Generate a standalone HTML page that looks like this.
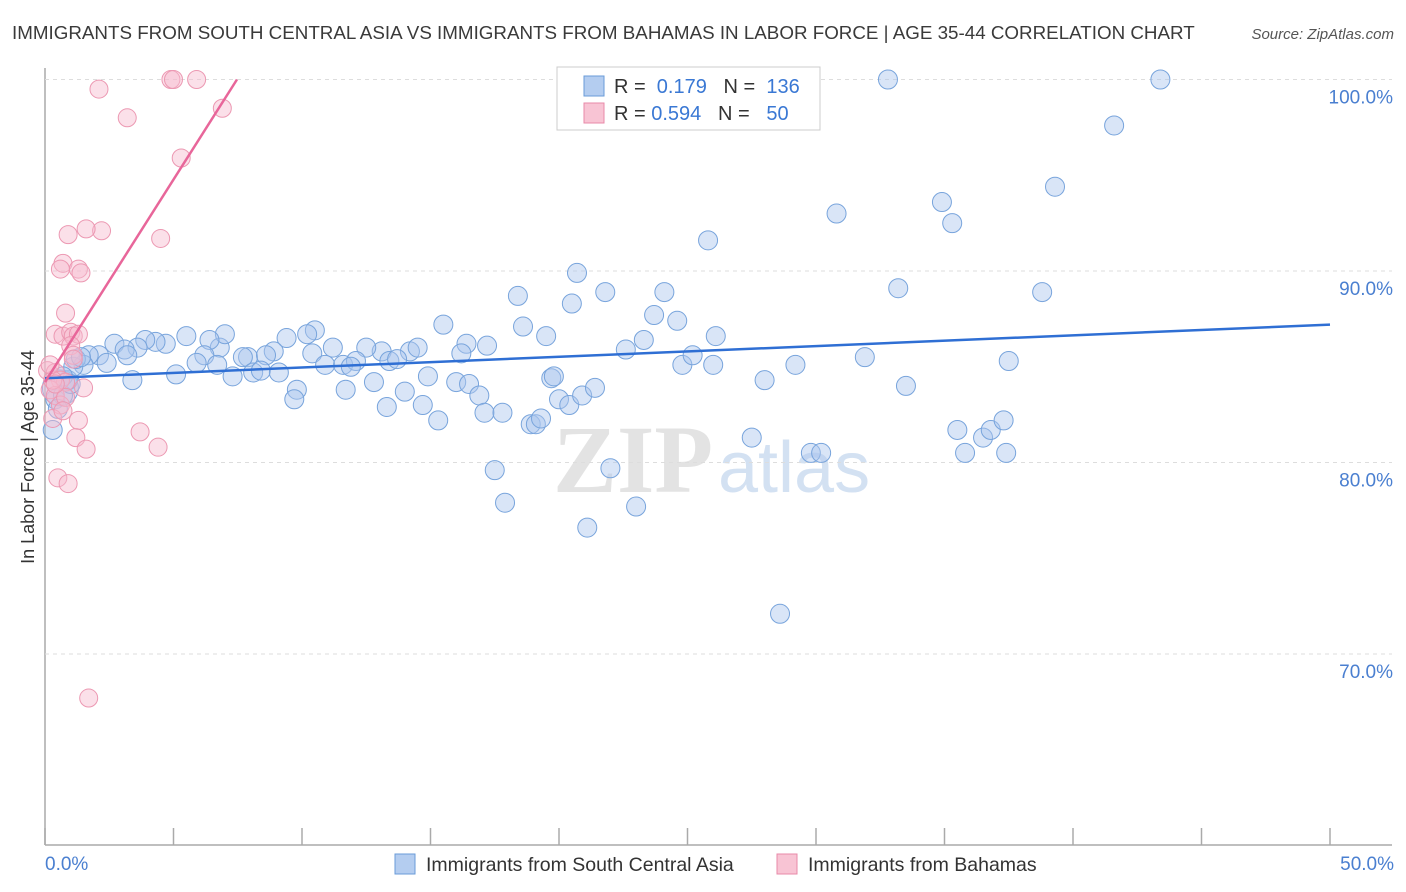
<!DOCTYPE html>
<html><head><meta charset="utf-8"><style>
body{margin:0;background:#fff;font-family:"Liberation Sans",sans-serif}
svg{display:block}
</style></head><body>
<svg id="c" width="1406" height="892">
<text x="12" y="39" font-size="18.8" fill="#3a3a3a">IMMIGRANTS FROM SOUTH CENTRAL ASIA VS IMMIGRANTS FROM BAHAMAS IN LABOR FORCE | AGE 35-44 CORRELATION CHART</text>
<text x="1394" y="39" font-size="15" fill="#555" font-style="italic" text-anchor="end">Source: ZipAtlas.com</text>
<g><text x="553" y="492" font-size="96" fill="#ddd" font-family="Liberation Serif" font-weight="bold" opacity="0.8">ZIP</text><text x="718" y="492" font-size="72" fill="#c9daf0" opacity="0.8">atlas</text></g>
<g id="grid"></g><g id="pts"></g><g id="lines"></g>
<text transform="translate(34,457) rotate(-90)" font-size="18" fill="#333" text-anchor="middle">In Labor Force | Age 35-44</text>
<g>
<rect x="557" y="67" width="263" height="63" fill="#fff" stroke="#ccc"/>
<rect x="584" y="76" width="20" height="20" fill="#b4cdf0" stroke="#6a9bd8"/>
<rect x="584" y="103" width="20" height="20" fill="#f8c4d4" stroke="#e88aa8"/>
<text x="614" y="93" font-size="20" fill="#333">R = <tspan fill="#3a78d4">&#160;0.179</tspan>&#160;&#160;&#160;N = <tspan fill="#3a78d4">&#160;136</tspan></text>
<text x="614" y="120" font-size="20" fill="#333">R = <tspan fill="#3a78d4">0.594</tspan>&#160;&#160;&#160;N = <tspan fill="#3a78d4">&#160;&#160;50</tspan></text>
</g>
<g>
<rect x="395" y="854" width="20" height="20" fill="#b4cdf0" stroke="#6a9bd8"/>
<text x="426" y="871" font-size="19.5" fill="#333">Immigrants from South Central Asia</text>
<rect x="777" y="854" width="20" height="20" fill="#f8c4d4" stroke="#e88aa8"/>
<text x="808" y="871" font-size="19.5" fill="#333">Immigrants from Bahamas</text>
</g>
</svg>
<script>
const xTicks=[0,5,10,15,20,25,30,35,40,45,50];
const yTicks=[70,80,90,100];
const blueX=[32.8,43.4,41.6,39.3,30.8,34.9,35.3,25.8,33.2,38.8,20.7,18.4,21.8,24.1,20.5,23.7,24.6,18.6,15.5,19.5,26.1,17.2,16.4,22.6,23.3,16.2,14.2,14.5,13.1,12.5,11.2,10.5,10.2,9.4,8.9,7.9,8.6,7.7,6.8,7.0,6.4,5.5,4.7,4.3,3.9,3.6,2.7,3.1,3.2,2.1,1.7,1.5,2.4,3.4,5.1,6.2,5.9,6.7,7.3,8.1,8.4,9.1,9.8,9.7,10.4,10.9,11.6,12.1,11.9,12.8,13.4,13.7,11.7,13.3,14.0,14.7,14.9,15.3,16.0,16.5,16.9,17.1,17.8,18.9,19.1,19.7,19.8,20.0,20.4,20.9,21.4,19.3,17.5,17.9,22.0,23.0,21.1,24.8,25.2,26.0,28.0,29.2,31.9,33.5,27.5,29.8,30.2,28.6,37.5,35.5,35.8,36.5,36.8,37.3,37.4,0.3,0.4,0.6,0.7,0.9,1.1,1.2,1.4,0.5,0.7,1.0];
const blueY=[100,100,97.6,94.4,93.0,93.6,92.5,91.6,89.1,88.9,89.9,88.7,88.9,88.9,88.3,87.7,87.4,87.1,87.2,86.6,86.6,86.1,86.2,85.9,86.4,85.7,85.8,86.0,85.8,86.0,86.0,86.9,86.7,86.5,85.8,85.5,85.6,85.5,86.0,86.7,86.4,86.6,86.2,86.3,86.4,86.0,86.2,85.9,85.6,85.6,85.6,85.1,85.2,84.3,84.6,85.6,85.2,85.1,84.5,84.7,84.8,84.7,83.8,83.3,85.7,85.1,85.1,85.3,85.0,84.2,85.3,85.4,83.8,82.9,83.7,83.0,84.5,82.2,84.2,84.1,83.5,82.6,82.6,82.0,82.0,84.4,84.5,83.3,83.0,83.5,83.9,82.3,79.6,77.9,79.7,77.7,76.6,85.1,85.6,85.1,84.3,85.1,85.5,84.0,81.3,80.5,80.5,72.1,85.3,81.7,80.5,81.3,81.7,82.2,80.5,81.7,83.3,83.9,83.5,84.3,85.0,85.4,85.5,82.8,84.5,84.1];
const pinkX=[2.1,3.2,4.9,5.0,5.9,6.9,5.3,4.5,2.2,1.6,0.9,0.7,0.6,1.3,1.4,0.8,0.4,0.7,1.0,1.1,1.3,1.0,1.1,1.1,0.1,0.4,0.6,0.8,0.2,0.4,0.6,0.3,1.3,3.7,4.4,1.2,1.6,0.5,0.9,1.7,1.5,0.3,0.8,0.7,0.4,0.2];
const pinkY=[99.5,98.0,100,100,100,98.5,95.9,91.7,92.1,92.2,91.9,90.4,90.1,90.1,89.9,87.8,86.7,86.6,86.8,86.6,86.7,86.1,85.6,85.4,84.8,84.7,84.3,84.2,83.8,83.5,83.0,82.3,82.2,81.6,80.8,81.3,80.7,79.2,78.9,67.7,83.9,84.3,83.4,82.7,84.1,85.1];
const blueTrend=[[0,84.4],[50,87.2]];
const pinkTrend=[[0,84.2],[7.47,100]];
const X=v=>45+v/50*1285, Y=v=>79.5+(100-v)*19.15;
const NS='http://www.w3.org/2000/svg';
function mk(t,a,p){const e=document.createElementNS(NS,t);for(const k in a)e.setAttribute(k,a[k]);p.appendChild(e);return e;}
const svg=document.getElementById('c'),g=document.getElementById('grid'),pts=document.getElementById('pts'),ln=document.getElementById('lines');
const ax=mk('line',{x1:45,y1:68,x2:45,y2:845,stroke:'#aaa','stroke-width':1.5},g);


const bx=mk('line',{x1:45,y1:845,x2:1392,y2:845,stroke:'#aaa','stroke-width':1.5},g);


yTicks.forEach(t=>{const l=mk('line',{x1:45,y1:Y(t),x2:1392,y2:Y(t),stroke:'#ddd','stroke-dasharray':'4,4'},g);


const tx=mk('text',{x:1393,y:Y(t)+24,'font-size':19,fill:'#4a7fd0','text-anchor':'end'},g);tx.textContent=t.toFixed(1)+'%';

});
xTicks.forEach(t=>{const l=mk('line',{x1:X(t),y1:828,x2:X(t),y2:845,stroke:'#aaa','stroke-width':1.5},g);

});
[[0,'start'],[50,'end']].forEach(([t,a])=>{const tx=mk('text',{x:X(t)+(a=='end'?64:0),y:870,'font-size':19,fill:'#4a7fd0','text-anchor':a},g);tx.textContent=t.toFixed(1)+'%';

});
blueX.forEach((v,i)=>{const c=mk('circle',{cx:X(v),cy:Y(blueY[i]),r:i==117?18:9.5,fill:'rgba(170,198,238,0.45)',stroke:'#78a4dc','stroke-width':1},pts);

});
pinkX.forEach((v,i)=>{const c=mk('circle',{cx:X(v),cy:Y(pinkY[i]),r:9,fill:'rgba(246,186,206,0.45)',stroke:'#ec98b2','stroke-width':1},pts);

});
const bl=mk('line',{x1:X(blueTrend[0][0]),y1:Y(blueTrend[0][1]),x2:X(blueTrend[1][0]),y2:Y(blueTrend[1][1]),stroke:'#2f6fd4','stroke-width':2.5},ln);


const pl=mk('line',{x1:X(pinkTrend[0][0]),y1:Y(pinkTrend[0][1]),x2:X(pinkTrend[1][0]),y2:Y(pinkTrend[1][1]),stroke:'#e8669a','stroke-width':2.5},ln);


</script>
</body></html>
